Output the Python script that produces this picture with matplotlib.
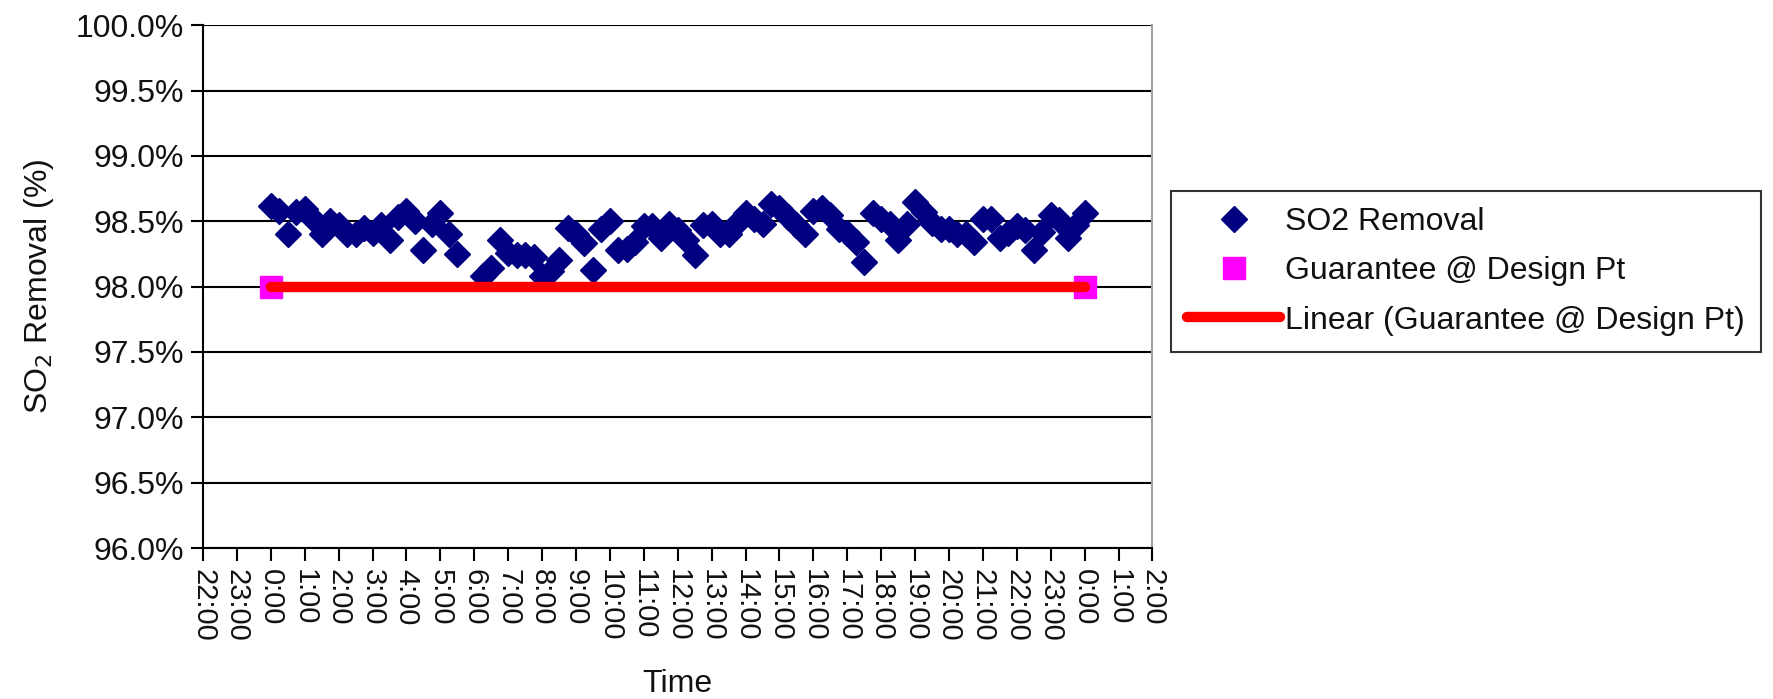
import numpy as np
import matplotlib
matplotlib.use("Agg")
import matplotlib.pyplot as plt
from matplotlib.ticker import FixedLocator, FuncFormatter

plt.rcParams['font.family'] = ['Liberation Sans', 'DejaVu Sans']

# ---- data ----
# SO2 removal (%) every 15 minutes from 0:00 to 24:00 (hours)
so2_removal = [
    98.62, 98.58, 98.40, 98.57, 98.59, 98.52, 98.40, 98.50, 98.47, 98.40,
    98.40, 98.45, 98.41, 98.47, 98.36, 98.53, 98.58, 98.50, 98.28, 98.48,
    98.56, 98.40, 98.25, np.nan, np.nan,
    98.08, 98.14, 98.36, 98.26, 98.24, 98.24, 98.23, 98.08, 98.12, 98.20,
    98.45, 98.40, 98.33, 98.13, 98.44, 98.50, 98.28, 98.29, 98.34, 98.46,
    98.46, 98.37, 98.48, 98.43, 98.36, 98.24, 98.47, 98.48, 98.40, 98.40,
    98.49, 98.56, 98.52, 98.48, 98.63, 98.60, 98.53, 98.47, 98.40, 98.58,
    98.60, 98.55, 98.44, 98.41, 98.34, 98.19, 98.56, 98.52, 98.48, 98.36,
    98.48, 98.65, 98.57, 98.49, 98.44, 98.44, 98.40, 98.40, 98.34, 98.52,
    98.52, 98.37, 98.41, 98.46, 98.43, 98.28, 98.42, 98.55, 98.51, 98.37,
    98.47, 98.56,
]
time_hours = [i * 0.25 for i in range(len(so2_removal))]

guarantee_time = [0.0, 24.0]
guarantee_value = [98.0, 98.0]

x_tick_hours = list(range(-2, 27))
x_tick_labels = [f"{h % 24}:00" for h in x_tick_hours]
y_ticks = [96.0, 96.5, 97.0, 97.5, 98.0, 98.5, 99.0, 99.5, 100.0]

TXT = '#111111'

# ---- figure ----
fig = plt.figure(figsize=(17.73, 6.99), dpi=100)
ax = fig.add_axes([0.1145, 0.216, 0.5355, 0.748])

for yv in y_ticks:
    ax.axhline(yv, color='black', lw=1.5, zorder=1)

ax.plot(time_hours, so2_removal, linestyle='none', marker='D', ms=13,
        color='#000080', mec='#000080', label='SO2 Removal', zorder=3)
ax.plot(guarantee_time, guarantee_value, linestyle='none', marker='s', ms=16,
        color='#FF00FF', mec='#FF00FF', label='Guarantee @ Design Pt', zorder=4)
ax.plot(guarantee_time, guarantee_value, color='#FF0000', lw=7.5,
        solid_capstyle='round', label='Linear (Guarantee @ Design Pt)', zorder=5)

ax.set_xlim(-2, 26)
ax.set_ylim(96, 100)
ax.xaxis.set_major_locator(FixedLocator(x_tick_hours))
ax.set_xticklabels(x_tick_labels, rotation=-90, fontsize=21, color=TXT)
ax.yaxis.set_major_locator(FixedLocator(y_ticks))
ax.yaxis.set_major_formatter(FuncFormatter(lambda v, p: f"{v:.1f}%"))
ax.tick_params(axis='y', labelsize=23, labelcolor=TXT, direction='out',
               length=9, width=1.5, pad=5)
ax.tick_params(axis='x', direction='out', length=9, width=1.5, pad=6)

for s in ['left', 'bottom']:
    ax.spines[s].set_color('black')
    ax.spines[s].set_linewidth(1.5)
ax.spines['top'].set_visible(False)
ax.spines['right'].set_color('#a0a0a0')
ax.spines['right'].set_linewidth(1.5)

ax.set_ylabel('SO$_2$ Removal (%)', fontsize=23, color=TXT, labelpad=14)
ax.set_xlabel('Time', fontsize=23, color=TXT, labelpad=20)

leg = ax.legend(loc='center left', bbox_to_anchor=(1.02, 0.529), fontsize=23,
                frameon=True, fancybox=False, edgecolor='black',
                handlelength=2.9, handletextpad=0.15, borderpad=0.5,
                labelspacing=0.6, borderaxespad=0)
leg.get_frame().set_linewidth(1.5)
for t in leg.get_texts():
    t.set_color(TXT)

fig.savefig('out.png', dpi=100, facecolor='white')
